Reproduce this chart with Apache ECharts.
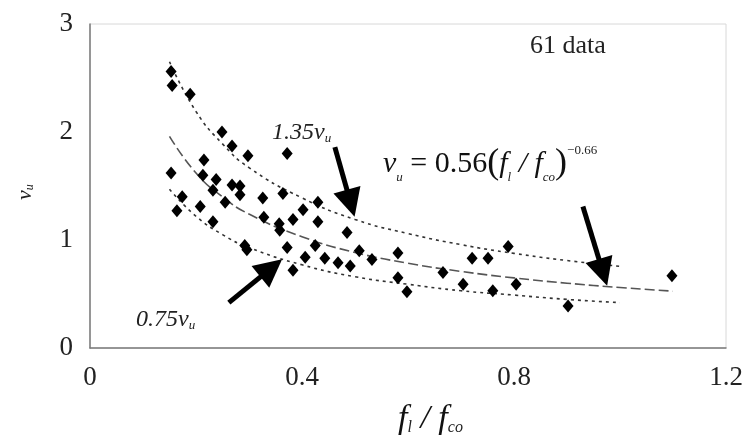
<!DOCTYPE html>
<html>
<head>
<meta charset="utf-8">
<script src="https://cdn.jsdelivr.net/npm/echarts@6/dist/echarts.min.js"></script>
<style>html,body{margin:0;padding:0;background:#fff;}#c{width:747px;height:446px;}</style>
</head>
<body>
<div id="c"></div>
<script>
// measured data points (f_l/f_co, v_u)
var dataX = [0.153,0.155,0.189,0.249,0.268,0.298,0.372,0.215,0.153,0.213,0.238,0.268,0.283,0.232,0.283,0.174,0.255,0.326,0.364,0.430,0.402,0.164,0.208,0.232,0.328,0.357,0.383,0.430,0.485,0.358,0.292,0.296,0.372,0.425,0.406,0.443,0.383,0.468,0.491,0.508,0.532,0.581,0.581,0.598,0.666,0.721,0.751,0.789,0.704,0.760,0.804,1.098,0.902];
var dataY = [2.56,2.43,2.35,2.00,1.87,1.78,1.80,1.74,1.62,1.60,1.56,1.51,1.50,1.46,1.42,1.40,1.35,1.39,1.43,1.35,1.28,1.27,1.31,1.17,1.21,1.15,1.19,1.17,1.07,1.09,0.95,0.91,0.93,0.95,0.84,0.83,0.72,0.79,0.76,0.90,0.82,0.88,0.65,0.52,0.70,0.83,0.83,0.94,0.59,0.53,0.59,0.67,0.39];
// fitted curve v_u = 0.56 (f_l/f_co)^-0.66 and its bounds, as drawn
var curveX = [0.15,0.2,0.25,0.3,0.4,0.5,0.6,0.7,0.8,0.9,1.0,1.1];
var midY   = [1.96,1.62,1.40,1.24,1.03,0.885,0.785,0.709,0.649,0.600,0.56,0.526];
var boundX = [0.15,0.2,0.25,0.3,0.4,0.5,0.6,0.7,0.8,0.9,1.0];
var upY    = [2.65,2.19,1.89,1.67,1.39,1.19,1.06,0.957,0.876,0.81,0.756];
var loY    = [1.47,1.22,1.05,0.93,0.77,0.66,0.59,0.53,0.49,0.45,0.42];
// annotation arrows [fromX, fromY, toX, toY]
var arrows = [[0.462,1.86,0.492,1.34],[0.262,0.42,0.342,0.74],[0.930,1.31,0.968,0.70]];
var xTicks = [0,0.4,0.8,1.2];
var yTicks = [0,1,2,3];

function zip(a,b){return a.map(function(v,i){return [v,b[i]];});}
var serif = '"Liberation Serif","DejaVu Serif",serif';
var chart = echarts.init(document.getElementById('c'));
chart.setOption({
  animation:false,
  backgroundColor:'#fff',
  grid:{left:90,top:24,width:636,height:324,show:true,borderColor:'#d8d8d8',borderWidth:1},
  xAxis:{type:'value',min:0,max:1.2,interval:0.4,
    axisLine:{show:true,lineStyle:{color:'#7a7a7a',width:1.5}},
    axisTick:{show:false},splitLine:{show:false},
    axisLabel:{fontFamily:serif,fontSize:27,color:'#222',margin:16,
      formatter:function(v){return xTicks.indexOf(Math.round(v*10)/10)>=0?String(Math.round(v*10)/10):'';}}},
  yAxis:{type:'value',min:0,max:3,interval:1,
    axisLine:{show:true,lineStyle:{color:'#7a7a7a',width:1.5}},
    axisTick:{show:false},splitLine:{show:false},
    axisLabel:{fontFamily:serif,fontSize:27,color:'#222',margin:17,
      formatter:function(v){return yTicks.indexOf(v)>=0?String(v):'';}}},
  series:[
    {type:'line',data:zip(boundX,upY),smooth:true,showSymbol:false,lineStyle:{color:'#333',width:1.6,type:[3,4]},z:2},
    {type:'line',data:zip(curveX,midY),smooth:true,showSymbol:false,lineStyle:{color:'#555',width:1.6,type:[10,4]},z:2},
    {type:'line',data:zip(boundX,loY),smooth:true,showSymbol:false,lineStyle:{color:'#333',width:1.6,type:[3,4]},z:2},
    {type:'scatter',data:zip(dataX,dataY),symbol:'diamond',symbolSize:[11,13],itemStyle:{color:'#000',opacity:1},z:3,
      markLine:{silent:true,symbol:['none','triangle'],symbolSize:28,label:{show:false},
        lineStyle:{color:'#000',width:5,type:'solid',opacity:1},
        data:arrows.map(function(a){return [{coord:[a[0],a[1]]},{coord:[a[2],a[3]]}];})}}
  ],
  graphic:[
    {type:'text',left:530,top:33,style:{text:'61 data',font:'26px '+serif,fill:'#222'}},
    {type:'text',left:272,top:121,style:{text:'{i|1.35v}{s|u}',rich:{i:{font:'italic 24px '+serif,fill:'#222'},s:{font:'italic 13px '+serif,fill:'#222',verticalAlign:'bottom'}}}},
    {type:'text',left:136,top:308,style:{text:'{i|0.75v}{s|u}',rich:{i:{font:'italic 24px '+serif,fill:'#222'},s:{font:'italic 13px '+serif,fill:'#222',verticalAlign:'bottom'}}}},
    {type:'text',left:383,top:144,style:{
      text:'{v|v}{s|u}{n| = 0.56}{p|(}{f|f}{s|l}{f| / f}{s|co}{p|)}{sup|\u22120.66}',
      rich:{
        v:{font:'italic 30px '+serif,fill:'#111',lineHeight:40},
        s:{font:'italic 13px '+serif,fill:'#222',verticalAlign:'bottom'},
        n:{font:'30px '+serif,fill:'#111',lineHeight:40},
        p:{font:'36px '+serif,fill:'#111',lineHeight:40},
        f:{font:'italic 30px '+serif,fill:'#111',lineHeight:40},
        sup:{font:'13px '+serif,fill:'#222',verticalAlign:'top'}
      }}},
    {type:'text',x:14,y:200,rotation:Math.PI/2,style:{text:'{i|v}{s|u}',rich:{i:{font:'italic 22px '+serif,fill:'#222'},s:{font:'italic 12px '+serif,fill:'#222',verticalAlign:'bottom'}}}},
    {type:'text',left:398,top:402,style:{
      text:'{f|f}{s|l}{f| / f}{s|co}',
      rich:{f:{font:'italic 34px '+serif,fill:'#111'},s:{font:'italic 16px '+serif,fill:'#222',verticalAlign:'bottom'}}}}
  ]
});
</script>
</body>
</html>
